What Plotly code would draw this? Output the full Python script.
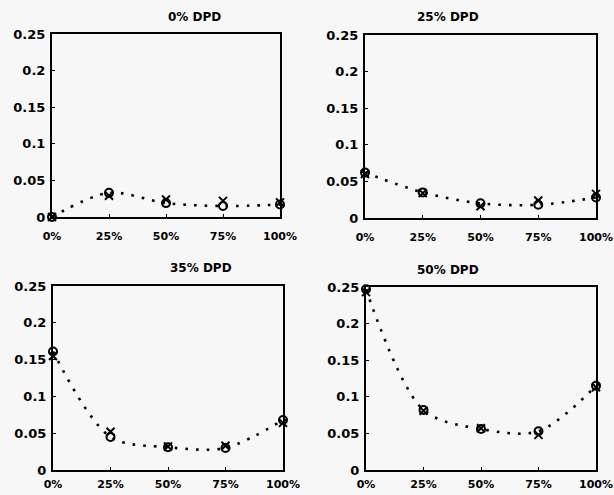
import plotly.graph_objects as go

categories = ["0%", "25%", "50%", "75%", "100%"]
panel_titles = ["0% DPD", "25% DPD", "35% DPD", "50% DPD"]
circle_vals = [
    [0.000, 0.033, 0.019, 0.015, 0.017],
    [0.062, 0.035, 0.020, 0.018, 0.028],
    [0.161, 0.045, 0.031, 0.030, 0.068],
    [0.247, 0.082, 0.056, 0.053, 0.115],
]
cross_vals = [
    [0.000, 0.029, 0.024, 0.022, 0.020],
    [0.060, 0.034, 0.016, 0.024, 0.033],
    [0.155, 0.052, 0.032, 0.033, 0.064],
    [0.243, 0.081, 0.057, 0.048, 0.113],
]
y_ticks = [0, 0.05, 0.1, 0.15, 0.2, 0.25]
y_ticktext = ["0", "0.05", "0.1", "0.15", "0.2", "0.25"]

W, H = 614, 495
boxes = [  # left, right, top, bottom in px
    (52, 280, 34, 217),
    (365, 596, 35, 218),
    (53, 283, 286, 470),
    (366, 596, 287, 470),
]
title_y = [17, 17, 268, 270]
x_standoff = [8, 8, 3, 3]

FAM = "DejaVu Sans, Liberation Sans, sans-serif"
xfont = dict(family=FAM, size=11, color="black", weight="bold")
yfont = dict(family=FAM, size=13, color="black", weight="bold")

fig = go.Figure()

for i in range(4):
    l, r, t, b = boxes[i]
    xa = "x" if i == 0 else f"x{i+1}"
    ya = "y" if i == 0 else f"y{i+1}"
    xs = list(range(len(categories)))
    fig.add_trace(go.Scatter(
        x=xs, y=circle_vals[i], mode="lines",
        line=dict(color="black", width=2.6, dash="2.6px,8px", shape="spline", smoothing=0.9),
        xaxis=xa, yaxis=ya, showlegend=False, cliponaxis=False))
    fig.add_trace(go.Scatter(
        x=xs, y=circle_vals[i], mode="markers",
        marker=dict(symbol="circle-open", size=8, color="black", line=dict(width=2)),
        xaxis=xa, yaxis=ya, showlegend=False, cliponaxis=False))
    fig.add_trace(go.Scatter(
        x=xs, y=cross_vals[i], mode="markers",
        marker=dict(symbol="x-thin-open", size=8, color="black", line=dict(width=2, color="black")),
        xaxis=xa, yaxis=ya, showlegend=False, cliponaxis=False))

    xkey = "xaxis" if i == 0 else f"xaxis{i+1}"
    ykey = "yaxis" if i == 0 else f"yaxis{i+1}"
    fig.update_layout(**{
        xkey: dict(domain=[l / W, r / W], anchor=ya, range=[0, 4], automargin=False,
                   tickvals=xs, ticktext=categories, showgrid=False, zeroline=False,
                   showline=True, linecolor="black", linewidth=2, mirror=True,
                   ticks="inside", ticklen=3, tickcolor="black", tickfont=xfont,
                   ticklabelstandoff=x_standoff[i], ticklabeloverflow="allow"),
        ykey: dict(domain=[1 - b / H, 1 - t / H], anchor=xa, range=[0, 0.25], automargin=False,
                   tickvals=y_ticks, ticktext=y_ticktext, showgrid=False, zeroline=False,
                   showline=True, linecolor="black", linewidth=2, mirror=True,
                   ticks="inside", ticklen=3, tickcolor="black", tickfont=yfont,
                   ticklabelstandoff=2, ticklabeloverflow="allow"),
    })
    fig.add_annotation(text=panel_titles[i], x=(l + r) / 2 / W, y=1 - title_y[i] / H,
                       xref="paper", yref="paper", showarrow=False, yanchor="middle",
                       font=dict(family=FAM, size=12, color="black", weight="bold"))

fig.update_layout(template="none", width=W, height=H, margin=dict(l=0, r=0, t=0, b=0),
                  paper_bgcolor="#f7f7f7", plot_bgcolor="#f7f7f7")
fig.write_html("out.html", config={"displayModeBar": False},
               post_script="document.body.style.margin='0';document.body.style.overflow='hidden';")
